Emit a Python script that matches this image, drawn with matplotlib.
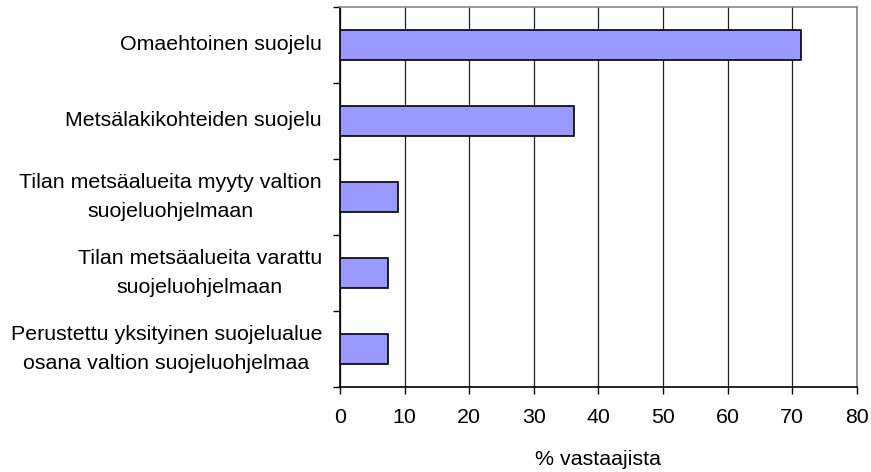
import matplotlib
matplotlib.use("Agg")
import matplotlib.pyplot as plt

categories = [
    "Omaehtoinen suojelu",
    "Metsälakikohteiden suojelu",
    "Tilan metsäalueita myyty valtion\nsuojeluohjelmaan",
    "Tilan metsäalueita varattu\nsuojeluohjelmaan",
    "Perustettu yksityinen suojelualue\nosana valtion suojeluohjelmaa",
]
values = [71.3, 36.2, 9.0, 7.5, 7.5]
xticks = [0, 10, 20, 30, 40, 50, 60, 70, 80]
xlabel = "% vastaajista"

plt.rcParams['font.family'] = ['Liberation Sans', 'DejaVu Sans']
FS = 15.4

fig = plt.figure(figsize=(8.71, 4.72), dpi=100)
ax = fig.add_axes([340/871, 1-386.7/472, (856.7-340)/871, (386.7-7)/472])

n = len(categories)
ypos = list(range(n))[::-1]
ax.barh(ypos, values, height=0.39, color='#9999ff', edgecolor='black', linewidth=1.2, zorder=3)

ax.set_xlim(0, 80)
ax.set_ylim(-0.5, n - 0.5)
ax.set_xticks(xticks)
ax.set_xticklabels([str(t) for t in xticks], fontsize=FS)
ax.xaxis.grid(True, color='#222222', linewidth=0.9, zorder=0)
ax.set_axisbelow(True)

ax.set_yticks([y - 0.5 for y in range(n)] + [n - 0.5])
ax.set_yticklabels([])
ax.tick_params(axis='y', length=5, direction='out', width=1)
ax.tick_params(axis='x', length=5, direction='out', width=1, pad=10)
for y, lab in zip(ypos, categories):
    ax.annotate(lab, xy=(0, y), xycoords=('axes fraction', 'data'),
                xytext=(-18, 0), textcoords='offset pixels',
                ha='right', va='center', multialignment='center',
                fontsize=FS, linespacing=1.65)

for s in ['top', 'right']:
    ax.spines[s].set_color('#888888')
    ax.spines[s].set_linewidth(1.2)
for s in ['left', 'bottom']:
    ax.spines[s].set_color('black')
    ax.spines[s].set_linewidth(1.2)

ax.set_xlabel(xlabel, fontsize=FS, labelpad=17)

fig.savefig("out.png", dpi=100)
